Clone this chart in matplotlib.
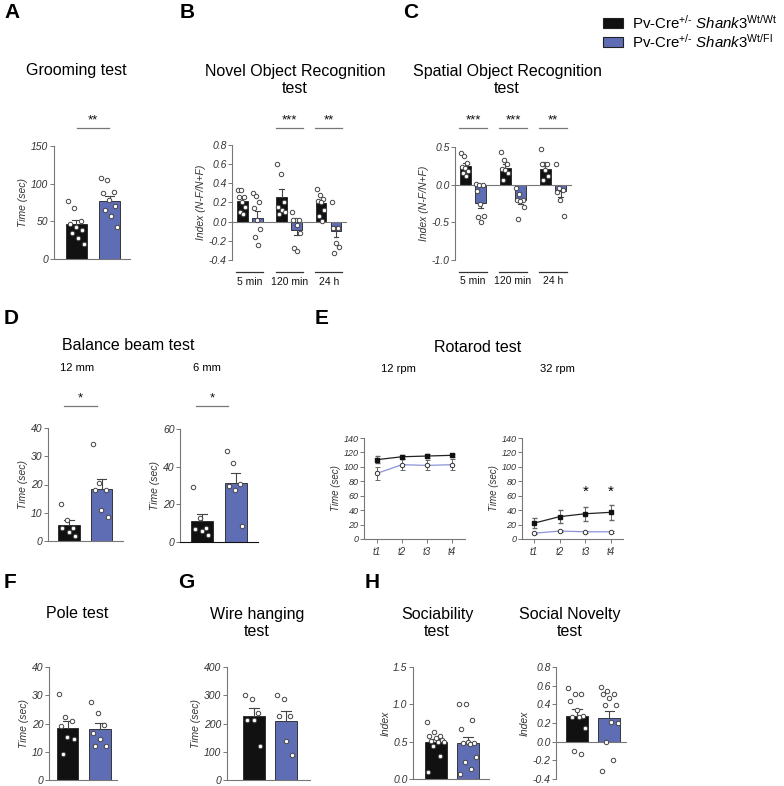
import numpy as np
import matplotlib
matplotlib.use('Agg')
import matplotlib.pyplot as plt
from matplotlib.patches import Rectangle

# figure size in pixels
W, H = 784, 786

plt.rcParams['font.family'] = ['Liberation Sans', 'DejaVu Sans']
plt.rcParams['mathtext.fontset'] = 'custom'
plt.rcParams['mathtext.rm'] = 'Liberation Sans'
plt.rcParams['mathtext.it'] = 'Liberation Sans:italic'

BLACK = '#111111'
BLUE = '#5f6db5'
GREY = '#777777'
TXT = '#333333'

genotypes = [r'Pv-Cre$^{+/\text{-}}$ $\mathit{Shank3}^{\mathrm{Wt/Wt}}$',
             r'Pv-Cre$^{+/\text{-}}$ $\mathit{Shank3}^{\mathrm{Wt/Fl}}$']

# A - grooming
groom_mean = [46, 77]
groom_sem = [6, 7]
groom_wt = [77, 68, 50, 46, 42, 38, 34, 28, 20]
groom_fl = [107, 105, 89, 87, 78, 71, 65, 57, 43]

# B - novel object recognition
time_labels = ['5 min', '120 min', '24 h']
nor_wt_mean = [0.22, 0.26, 0.19]
nor_wt_sem = [0.04, 0.08, 0.04]
nor_fl_mean = [0.04, -0.09, -0.10]
nor_fl_sem = [0.07, 0.05, 0.06]
nor_wt = [[0.33, 0.33, 0.26, 0.26, 0.20, 0.15, 0.10, 0.08],
          [0.60, 0.50, 0.20, 0.15, 0.12, 0.10, 0.08],
          [0.34, 0.28, 0.24, 0.22, 0.21, 0.12, 0.06, 0.01]]
nor_fl = [[0.30, 0.27, 0.20, 0.14, 0.02, -0.08, -0.16, -0.24],
          [0.10, 0.02, 0.02, 0.02, -0.03, -0.12, -0.28, -0.31],
          [0.21, -0.07, -0.07, -0.07, -0.22, -0.26, -0.33]]

# C - spatial object recognition
sor_wt_mean = [0.25, 0.22, 0.21]
sor_wt_sem = [0.04, 0.05, 0.05]
sor_fl_mean = [-0.24, -0.21, -0.08]
sor_fl_sem = [0.07, 0.05, 0.08]
sor_wt = [[0.42, 0.38, 0.29, 0.24, 0.22, 0.18, 0.15, 0.12],
          [0.44, 0.33, 0.28, 0.21, 0.20, 0.15, 0.06],
          [0.47, 0.28, 0.28, 0.28, 0.19, 0.12, 0.06]]
sor_fl = [[0.01, 0.0, 0.0, -0.08, -0.26, -0.42, -0.43, -0.50],
          [-0.05, -0.13, -0.20, -0.21, -0.22, -0.30, -0.46],
          [0.27, -0.05, -0.07, -0.10, -0.20, -0.41]]

# D - balance beam
bb12_mean = [5.8, 18.4]
bb12_sem = [1.8, 3.6]
bb12_wt = [13.0, 7.6, 4.6, 4.6, 3.2, 1.9]
bb12_fl = [34.5, 20.5, 18.2, 18.0, 11.1, 8.5]
bb6_mean = [11.1, 31.2]
bb6_sem = [3.9, 5.5]
bb6_wt = [29.4, 12.9, 7.2, 7.0, 5.7, 3.6]
bb6_fl = [48.2, 42.1, 30.8, 30.0, 27.8, 8.4]

# E - rotarod
trials = ['t1', 't2', 't3', 't4']
rr12_wt = [110, 114, 115, 116]
rr12_wt_err = [5, 3, 3, 2]
rr12_fl = [91, 103, 102, 103]
rr12_fl_err = [9, 8, 7, 8]
rr32_wt = [22, 31, 35, 37]
rr32_wt_err = [7, 9, 10, 10]
rr32_fl = [8, 11, 10, 10]
rr32_fl_err = [1, 1, 1, 1]

# F - pole
pole_mean = [18.5, 18.1]
pole_sem = [2.3, 2.1]
pole_wt = [30.6, 22.2, 20.8, 19.0, 15.2, 14.4, 9.3]
pole_fl = [27.6, 23.8, 19.6, 16.7, 14.4, 12.2, 12.2]

# G - wire hanging
wire_mean = [226, 208]
wire_sem = [29, 36]
wire_wt = [302, 287, 238, 214, 212, 120]
wire_fl = [302, 287, 226, 226, 138, 87]

# H - sociability / social novelty
soc_mean = [0.49, 0.48]
soc_sem = [0.045, 0.08]
soc_wt = [0.77, 0.63, 0.58, 0.57, 0.55, 0.52, 0.51, 0.50, 0.50, 0.44, 0.31, 0.10]
soc_fl = [1.0, 1.0, 0.79, 0.67, 0.49, 0.48, 0.48, 0.47, 0.29, 0.23, 0.13, 0.07]
nov_mean = [0.28, 0.25]
nov_sem = [0.07, 0.075]
nov_wt = [0.58, 0.51, 0.51, 0.44, 0.34, 0.27, 0.26, 0.26, 0.15, -0.10, -0.13]
nov_fl = [0.59, 0.54, 0.51, 0.51, 0.47, 0.39, 0.39, 0.21, 0.20, 0.0, -0.20, -0.31]


fig = plt.figure(figsize=(W / 100, H / 100), dpi=100)


def add_ax(x0, y0, x1, y1):
    # pixel box -> figure fraction
    return fig.add_axes([x0 / W, 1 - y1 / H, (x1 - x0) / W, (y1 - y0) / H])


def ftext(x, y, s, **kw):
    fig.text(x / W, 1 - y / H, s, **kw)


def style(ax, ylim, yticks, fmt, ylabel, fs=7.5):
    for s in ['top', 'right']:
        ax.spines[s].set_visible(False)
    for s in ['left', 'bottom']:
        ax.spines[s].set_color(GREY)
        ax.spines[s].set_linewidth(0.8)
    ax.set_ylim(ylim)
    ax.set_yticks(yticks)
    ax.set_yticklabels([fmt.format(t) for t in yticks], fontstyle='italic',
                       fontsize=fs, color=TXT)
    ax.tick_params(axis='y', length=3, width=0.7, color=GREY, pad=1)
    ax.set_xticks([])
    ax.set_ylabel(ylabel, fontstyle='italic', fontsize=7.5, color=TXT, labelpad=2)


def bar(ax, x, m, s, color, pts, width):
    ax.bar(x, m, width, color=color, edgecolor='#222222', linewidth=0.6, zorder=2)
    d = s if m >= 0 else -s
    ax.plot([x, x], [m, m + d], color='#444444', lw=0.8, zorder=3)
    ax.plot([x - width * 0.22, x + width * 0.22], [m + d, m + d], color='#444444',
            lw=0.8, zorder=3)
    n = len(pts)
    offs = ((np.arange(n) * 0.37) % 1 - 0.5) * width * 0.8
    ax.plot(x + offs, pts, 'o', ms=3.2, mfc='white', mec='#444444', mew=0.7,
            zorder=4, clip_on=False)


def sig(ax, x0, x1, yf, text):
    tr = ax.get_xaxis_transform()
    ax.plot([x0, x1], [yf, yf], color=GREY, lw=0.9, transform=tr, clip_on=False)
    ax.text((x0 + x1) / 2, yf + 0.015, text, transform=tr, ha='center', va='bottom',
            fontsize=9.5, color=BLACK)


def two_bars(ax, means, sems, wt, fl, width=0.65):
    bar(ax, 0, means[0], sems[0], BLACK, wt, width)
    bar(ax, 1, means[1], sems[1], BLUE, fl, width)


def grouped(ax, wt_mean, wt_sem, fl_mean, fl_sem, wt, fl):
    for i in range(3):
        bar(ax, i - 0.19, wt_mean[i], wt_sem[i], BLACK, wt[i], 0.27)
        bar(ax, i + 0.19, fl_mean[i], fl_sem[i], BLUE, fl[i], 0.27)
    ax.spines['bottom'].set_position(('data', 0))
    tr = ax.get_xaxis_transform()
    for i, lab in enumerate(time_labels):
        ax.plot([i - 0.34, i + 0.34], [-0.104, -0.104], color=TXT, lw=0.9,
                transform=tr, clip_on=False)
        ax.text(i, -0.19, lab, transform=tr, ha='center', va='center',
                fontsize=7.5, color=BLACK)


# panel letters
for lab, x, y in [('A', 4, 13), ('B', 180, 13), ('C', 403, 13), ('D', 4, 318),
                  ('E', 315, 318), ('F', 4, 582), ('G', 178, 582), ('H', 365, 582)]:
    ftext(x, y, lab, fontsize=15, fontweight='bold', ha='left', va='center')

# legend
for i, (c, g) in enumerate(zip([BLACK, BLUE], genotypes)):
    y = 18 + i * 19
    fig.add_artist(Rectangle((603 / W, 1 - (y + 10) / H), 20 / W, 10 / H,
                             transform=fig.transFigure, facecolor=c,
                             edgecolor='#222222', linewidth=0.8))
    ftext(632, y + 5, g, fontsize=10.8, ha='left', va='center')

# A
ax = add_ax(54, 146, 130, 259)
two_bars(ax, groom_mean, groom_sem, groom_wt, groom_fl, 0.64)
ax.set_xlim(-0.68, 1.62)
style(ax, (0, 150), [0, 50, 100, 150], '{:.0f}', 'Time (sec)')
sig(ax, 0.02, 0.98, 1.16, '**')
ftext(76, 70, 'Grooming test', fontsize=11.5, ha='center', va='center')

# B
ax = add_ax(232, 145, 346, 260)
grouped(ax, nor_wt_mean, nor_wt_sem, nor_fl_mean, nor_fl_sem, nor_wt, nor_fl)
ax.set_xlim(-0.45, 2.44)
style(ax, (-0.4, 0.8), [-0.4, -0.2, 0.0, 0.2, 0.4, 0.6, 0.8], '{:.1f}',
      'Index (N-F/N+F)')
sig(ax, 0.66, 1.34, 1.148, '***')
sig(ax, 1.66, 2.34, 1.148, '**')
ftext(295, 80, 'Novel Object Recognition\ntest', fontsize=11.5, ha='center',
      va='center', linespacing=1.2)

# C
ax = add_ax(455, 147, 571, 260)
grouped(ax, sor_wt_mean, sor_wt_sem, sor_fl_mean, sor_fl_sem, sor_wt, sor_fl)
ax.set_xlim(-0.45, 2.45)
style(ax, (-1.0, 0.5), [-1.0, -0.5, 0.0, 0.5], '{:.1f}', 'Index (N-F/N+F)')
sig(ax, -0.34, 0.34, 1.168, '***')
sig(ax, 0.66, 1.34, 1.168, '***')
sig(ax, 1.66, 2.34, 1.168, '**')
ftext(507, 80, 'Spatial Object Recognition\ntest', fontsize=11.5, ha='center',
      va='center', linespacing=1.2)

# D
ftext(128, 345, 'Balance beam test', fontsize=11.5, ha='center', va='center')
ftext(77, 368, '12 mm', fontsize=8, ha='center', va='center')
ftext(207, 368, '6 mm', fontsize=8, ha='center', va='center')
ax = add_ax(48, 428, 123, 541)
two_bars(ax, bb12_mean, bb12_sem, bb12_wt, bb12_fl, 0.66)
ax.set_xlim(-0.65, 1.66)
style(ax, (0, 40), [0, 10, 20, 30, 40], '{:.0f}', 'Time (sec)')
sig(ax, -0.15, 0.86, 1.195, '*')
ax = add_ax(180, 429, 258, 542)
two_bars(ax, bb6_mean, bb6_sem, bb6_wt, bb6_fl, 0.66)
ax.set_xlim(-0.66, 1.67)
style(ax, (0, 60), [0, 20, 40, 60], '{:.0f}', 'Time (sec)')
ax.spines['bottom'].set_color(BLACK)
sig(ax, -0.18, 0.78, 1.2, '*')

# E
ftext(478, 347, 'Rotarod test', fontsize=11.5, ha='center', va='center')
ftext(398, 369, '12 rpm', fontsize=8, ha='center', va='center')
ftext(557, 369, '32 rpm', fontsize=8, ha='center', va='center')
x = np.arange(1, 5)
for box, lim, wt, wt_err, fl, fl_err in [
        ((364, 438, 465, 539), (0.48, 4.52), rr12_wt, rr12_wt_err, rr12_fl, rr12_fl_err),
        ((522, 438, 623, 539), (0.53, 4.47), rr32_wt, rr32_wt_err, rr32_fl, rr32_fl_err)]:
    ax = add_ax(*box)
    ax.errorbar(x, fl, yerr=fl_err, color='#8b93d8', lw=0.9, marker='o', ms=3.2,
                mfc='white', mec='#333333', mew=0.7, ecolor='#666666', elinewidth=0.7,
                capsize=1.8, zorder=3)
    ax.errorbar(x, wt, yerr=wt_err, color='#222222', lw=0.9, marker='s', ms=3,
                mfc=BLACK, mec=BLACK, ecolor='#666666', elinewidth=0.7, capsize=1.8,
                zorder=4)
    ax.set_xlim(lim)
    style(ax, (0, 140), list(range(0, 141, 20)), '{:.0f}', 'Time (sec)', fs=6.5)
    ax.yaxis.label.set_size(7)
    ax.set_xticks(x)
    ax.set_xticklabels(trials, fontstyle='italic', fontsize=7, color=TXT)
    ax.tick_params(axis='x', length=3, width=0.7, color=GREY, pad=3)
ax.text(3, 66, '*', ha='center', va='center', fontsize=11)
ax.text(4, 66, '*', ha='center', va='center', fontsize=11)

# F
ftext(77, 613, 'Pole test', fontsize=11.5, ha='center', va='center')
ax = add_ax(49, 667, 117, 780)
two_bars(ax, pole_mean, pole_sem, pole_wt, pole_fl, 0.66)
ax.set_xlim(-0.57, 1.52)
style(ax, (0, 40), [0, 10, 20, 30, 40], '{:.0f}', 'Time (sec)')

# G
ftext(257, 623, 'Wire hanging\ntest', fontsize=11.5, ha='center', va='center',
      linespacing=1.2)
ax = add_ax(227, 667, 310, 780)
two_bars(ax, wire_mean, wire_sem, wire_wt, wire_fl, 0.69)
ax.set_xlim(-0.84, 1.75)
style(ax, (0, 400), [0, 100, 200, 300, 400], '{:.0f}', 'Time (sec)')

# H
ftext(437, 623, 'Sociability\ntest', fontsize=11.5, ha='center', va='center',
      linespacing=1.2)
ax = add_ax(413, 667, 489, 779)
two_bars(ax, soc_mean, soc_sem, soc_wt, soc_fl, 0.69)
ax.set_xlim(-0.72, 1.66)
style(ax, (0, 1.5), [0.0, 0.5, 1.0, 1.5], '{:.1f}', 'Index')

ftext(570, 623, 'Social Novelty\ntest', fontsize=11.5, ha='center', va='center',
      linespacing=1.2)
ax = add_ax(556, 667, 626, 779)
two_bars(ax, nov_mean, nov_sem, nov_wt, nov_fl, 0.68)
ax.set_xlim(-0.65, 1.51)
style(ax, (-0.4, 0.8), [-0.4, -0.2, 0.0, 0.2, 0.4, 0.6, 0.8], '{:.1f}', 'Index')
ax.spines['bottom'].set_position(('data', 0))

fig.savefig('out.png', dpi=100)
